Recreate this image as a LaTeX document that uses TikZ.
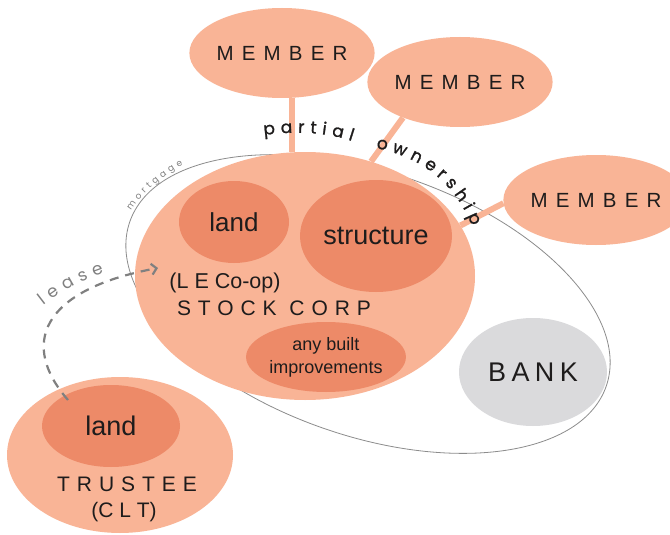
\documentclass[tikz,border=0pt]{standalone}
\usepackage{fontspec}
\setmainfont{Liberation Sans}
\newfontfamily\widefont[LetterSpace=40]{Liberation Sans}
\newfontfamily\midfont[LetterSpace=33]{Liberation Sans}
\newfontfamily\bankfont[LetterSpace=20]{Liberation Sans}
\newfontfamily\geofont[FakeBold=1.3]{Poppins}
\newfontfamily\geolight{Poppins}
\usetikzlibrary{shapes.geometric,decorations.text,arrows.meta}
\definecolor{salL}{RGB}{249,180,150}
\definecolor{salD}{RGB}{237,138,104}
\definecolor{bankg}{RGB}{218,218,220}
\definecolor{ink}{RGB}{30,28,28}
\definecolor{dashgray}{RGB}{128,128,128}
\definecolor{outlinegray}{RGB}{140,140,140}
\begin{document}
\begin{tikzpicture}[x=1pt,y=-1pt,
  blob/.style={ellipse, fill=salL, draw=none, inner sep=0pt, text=ink},
  inblob/.style={ellipse, fill=salD, draw=none, inner sep=0pt, text=ink},
  bankblob/.style={ellipse, fill=bankg, draw=none, inner sep=0pt, text=ink},
  conn/.style={salL, line width=6pt},
  lbl/.style={text=ink, inner sep=0pt, align=center},
  leasearrow/.style={dashgray, line width=2.2pt, dash pattern=on 9pt off 7pt,
    -{Straight Barb[length=5pt,width=11pt,line width=2.2pt]}},
  outline/.style={outlinegray, line width=0.8pt}]
\fill[white] (0,0) rectangle (670,535);
\useasboundingbox (0,0) rectangle (670,535);

% bank
\node[bankblob, minimum width=148pt, minimum height=108pt] (bank) at (533,372)
  {\bankfont\fontsize{27}{30}\selectfont BANK};

% mortgage outline
\draw[outline, rotate around={-19:(368,304)}] (368,304) ellipse [x radius=252pt, y radius=132pt];

% stock corp
\node[blob, minimum width=340pt, minimum height=248pt] (corp) at (305,276) {};
\node[inblob, minimum width=110pt, minimum height=82pt] (cland) at (234,222)
  {\fontsize{26}{30}\selectfont land};
\node[inblob, minimum width=152pt, minimum height=112pt] (struct) at (376,236)
  {\fontsize{27}{30}\selectfont structure};
\node[inblob, minimum width=156pt, minimum height=70pt, align=center,
  font=\fontsize{18}{23}\selectfont] (built) at (326,357)
  {any built\\improvements};
\node[lbl] (lecoop) at (225,283) {\fontsize{21.5}{24}\selectfont (L E Co-op)};
\node[lbl] (stock) at (274,308) {\midfont\fontsize{21}{24}\selectfont STOCK CORP};

% members
\node[blob, minimum width=166pt, minimum height=90pt] (m1) at (282,53)
  {\widefont\fontsize{20.5}{24}\selectfont MEMBER};
\node[blob, minimum width=166pt, minimum height=90pt] (m2) at (460,82)
  {\widefont\fontsize{20.5}{24}\selectfont MEMBER};
\node[blob, minimum width=156pt, minimum height=90pt] (m3) at (596,200)
  {\widefont\fontsize{20.5}{24}\selectfont MEMBER};

\draw[conn] (m1.-77) -- (m1.-77 |- corp.north);
\draw[conn] (m2.212) -- (corp.60);
\draw[conn] (m3.182) -- (corp.18);

% trustee
\node[blob, minimum width=226pt, minimum height=156pt] (trustee) at (120,455) {};
\node[inblob, minimum width=138pt, minimum height=82pt] (tland) at (111,426)
  {\fontsize{27}{30}\selectfont land};
\node[lbl] (trtext) at (127,484) {\midfont\fontsize{21}{24}\selectfont TRUSTEE};
\node[lbl] (clt) at (124,512) {\fontsize{21}{24}\selectfont (C L T)};

% lease arrow
\coordinate (ls) at (68,400);
\coordinate (le) at (158,268);
\draw[leasearrow] (ls) .. controls (20,345) and (40,290) .. (le);

% texts along paths
\path[decorate, decoration={text along path, text align=fit to path,
  text={|\geofont\fontsize{17}{17}\selectfont\color{ink}|partial}}]
  (264,135) .. controls (295,131) and (325,132) .. (352,141);
\path[decorate, decoration={text along path, text align=fit to path,
  text={|\geofont\fontsize{17}{17}\selectfont\color{ink}|ownership}}]
  (376,148) .. controls (415,156) and (452,177) .. (472,226);
\path[decorate, decoration={text along path, text align=fit to path,
  text={|\geolight\fontsize{9}{9}\selectfont\color{dashgray}|mortgage}}]
  (131,211) .. controls (143,193) and (160,177) .. (183,165);
\path[decorate, decoration={text along path, text align=fit to path,
  text={|\geolight\fontsize{17}{17}\selectfont\color{dashgray}|lease}}]
  (44,306) .. controls (62,292) and (80,281) .. (104,273);
\end{tikzpicture}
\end{document}
